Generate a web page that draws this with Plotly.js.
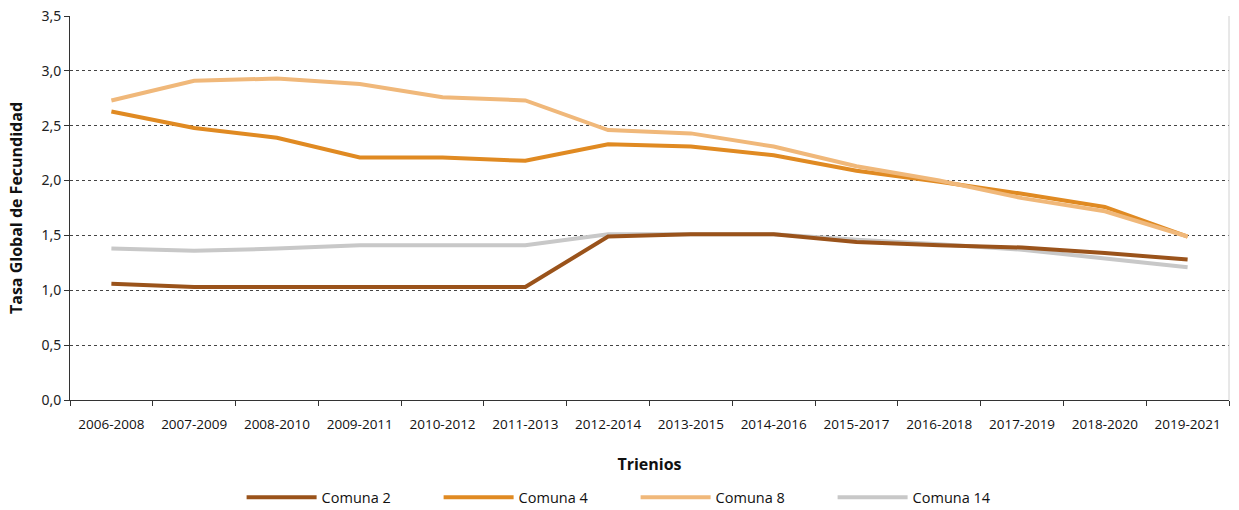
<!DOCTYPE html>
<html>
<head>
<meta charset="utf-8">
<script src="https://cdn.plot.ly/plotly-3.0.1.min.js"></script>
<style>html,body{margin:0;padding:0;background:#fff;}#chart{width:1239px;height:510px;}</style>
</head>
<body>
<div id="chart"></div>
<script>
const trienios = ["2006-2008","2007-2009","2008-2010","2009-2011","2010-2012","2011-2013","2012-2014","2013-2015","2014-2016","2015-2017","2016-2018","2017-2019","2018-2020","2019-2021"];
const comuna2  = [1.06,1.03,1.03,1.03,1.03,1.03,1.49,1.51,1.51,1.44,1.41,1.39,1.34,1.28];
const comuna4  = [2.63,2.48,2.39,2.21,2.21,2.18,2.33,2.31,2.23,2.09,1.99,1.88,1.76,1.49];
const comuna8  = [2.73,2.91,2.93,2.88,2.76,2.73,2.46,2.43,2.31,2.13,2.00,1.84,1.72,1.49];
const comuna14 = [1.38,1.36,1.38,1.41,1.41,1.41,1.51,1.51,1.51,1.46,1.42,1.37,1.29,1.21];
const yTicks = [0,0.5,1,1.5,2,2.5,3,3.5];

function tr(name, y, color, rank){
  return {type:"scatter", mode:"lines", name:name, x:trienios, y:y,
    line:{color:color, width:4, shape:"linear"}, legendrank:rank, hoverinfo:"x+y+name"};
}
const data = [
  tr("Comuna 14", comuna14, "#C8C8C8", 4),
  tr("Comuna 2", comuna2, "#9A531B", 1),
  tr("Comuna 4", comuna4, "#E08A22", 2),
  tr("Comuna 8", comuna8, "#F0B87A", 3)
];
const FONT = "Open Sans, sans-serif";
const layout = {
  width:1239, height:510,
  margin:{l:70, r:10, t:16, b:110, autoexpand:false},
  paper_bgcolor:"#fff", plot_bgcolor:"#fff",
  separators:",.",
  showlegend:true,
  font:{family:FONT, size:14, color:"#111"},
  xaxis:{type:"category", range:[-0.5,13.5], tickson:"boundaries", ticks:"outside", ticklen:5, tickcolor:"#333",
    showline:true, linecolor:"#333", linewidth:1, showgrid:false, zeroline:false, ticklabelstandoff:12,
    tickfont:{family:FONT, size:13.5, color:"#111"},
    title:{text:"<b>Trienios</b>", font:{family:FONT, size:16, color:"#111"}, standoff:26}},
  yaxis:{range:[0,3.5], tickvals:yTicks, tickformat:".1f", ticks:"outside", ticklen:5, tickcolor:"#333",
    showline:true, linecolor:"#333", linewidth:1, showgrid:true, gridcolor:"#444", griddash:"dot", gridwidth:1, zeroline:false,
    tickfont:{family:"Noto Sans, sans-serif", size:14, color:"#222"},
    title:{text:"<b>Tasa Global de Fecundidad</b>", font:{family:FONT, size:16, color:"#111"}, standoff:14}},
  legend:{orientation:"h", xref:"container", yref:"container", x:0.513, xanchor:"center", y:0.025, yanchor:"middle", itemwidth:70,
    entrywidth:112, entrywidthmode:"pixels",
    font:{family:FONT, size:14.5, color:"#111"}},
  shapes:[{type:"line", xref:"paper", yref:"paper", x0:1, x1:1, y0:0, y1:1, line:{color:"#d0d0d0", width:1}}]
};
Plotly.newPlot("chart", data, layout, {displayModeBar:false, staticPlot:true});
</script>
</body>
</html>
